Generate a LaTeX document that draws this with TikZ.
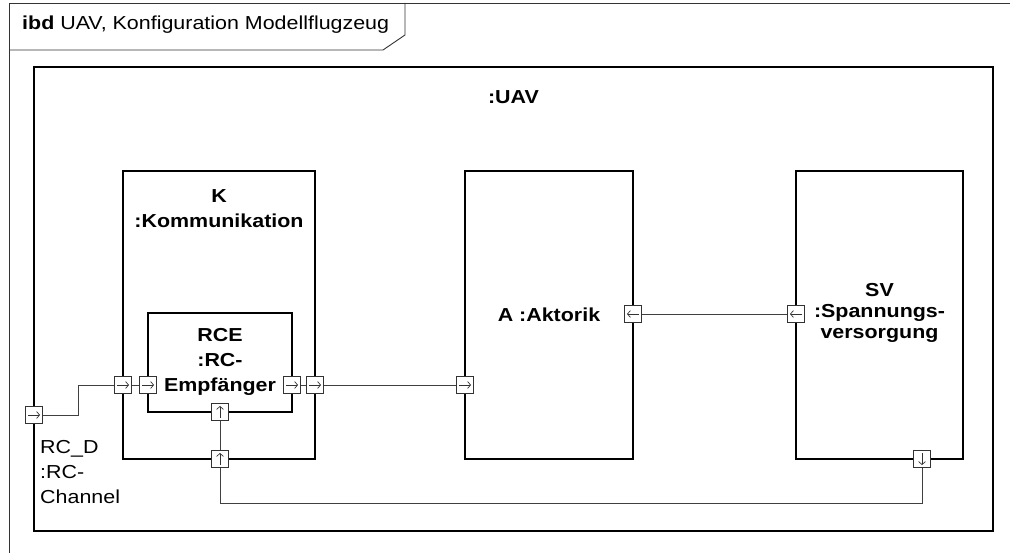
\documentclass[tikz,border=0pt]{standalone}
\usepackage{fontspec}
\setmainfont{Liberation Sans}[FakeStretch=1.14]
\usetikzlibrary{arrows.meta}

\tikzset{
 block/.style 2 args={draw,line width=1.3pt,inner sep=0pt,minimum width=#1,minimum height=#2},
 port/.style={draw=black!80,fill=white,line width=.7pt,inner sep=0pt,minimum size=17pt},
 pr/.style={port,path picture={\draw[->] ([xshift=-6pt]path picture bounding box.center)--([xshift=6pt]path picture bounding box.center);}},
 pl/.style={port,path picture={\draw[->] ([xshift=6pt]path picture bounding box.center)--([xshift=-6pt]path picture bounding box.center);}},
 pu/.style={port,path picture={\draw[->] ([yshift=-6pt]path picture bounding box.center)--([yshift=6pt]path picture bounding box.center);}},
 pd/.style={port,path picture={\draw[->] ([yshift=6pt]path picture bounding box.center)--([yshift=-6pt]path picture bounding box.center);}},
 conn/.style={draw=black!75,line width=.8pt},
 lbl/.style={font=\fontsize{18.8}{25}\selectfont\bfseries,align=center,inner sep=0pt}
}

\begin{document}
\begin{tikzpicture}[x=1pt,y=-1pt,>={Straight Barb[length=3pt,width=7pt]},
 every node/.append style={font=\fontsize{18.8}{25}\selectfont}]
 \useasboundingbox (0,0) rectangle (1010,553);
 \clip (0,0) rectangle (1010,553);
 % frame
 \draw[black!80,line width=.9pt] (9,570)--(9,3)--(1030,3);
 \draw[black!80,line width=.9pt] (9,50)--(383,50)--(405,35)--(405,3);
 \node[anchor=west,inner sep=0pt] (title) at (22,25) {\textbf{ibd} UAV, Konfiguration Modellflugzeug};
 % blocks
 \node[block={959pt}{464pt}] (uav) at (513.5,299) {};
 \node[block={192pt}{288pt}] (k) at (219,315) {};
 \node[block={144pt}{99pt}] (rce) at (220,362.5) {};
 \node[block={168pt}{288pt}] (a) at (549,315) {};
 \node[block={167pt}{288pt}] (sv) at (879.5,315) {};
 \node[lbl] (uavname) at (513.5,97) {:UAV};
 \node[lbl] (kname) at (219,209) {K\\:Kommunikation};
 \node[lbl] (rcename) at (220,361.5) {RCE\\:RC-\\Empfänger};
 \node[lbl] (aname) at (549,315) {A :Aktorik};
 \node[lbl,font=\fontsize{18.8}{21}\selectfont\bfseries] (svname) at (879.5,313) {SV\\:Spannungs-\\versorgung};
 % ports
 \node[pr] (rcd) at (34,415) {};
 \node[pr] (kin) at (123,385) {};
 \node[pr] (rin) at (148,385) {};
 \node[pr] (rout) at (292,385) {};
 \node[pr] (kout) at (315,385) {};
 \node[pr] (ain) at (465,385) {};
 \node[pl] (aout) at (633,314) {};
 \node[pl] (svin) at (796,314) {};
 \node[pu] (rpw) at (220,412) {};
 \node[pu] (kpw) at (220,459) {};
 \node[pd] (svpw) at (922,459) {};
 \node[anchor=west,align=left,inner sep=0pt] (rcdname) at (40,472) {RC\_D\\:RC-\\Channel};
 % connectors
 \draw[conn] (rcd.east)--++(36,0) |- (kin.west);
 \draw[conn] (kin)--(rin);
 \draw[conn] (rout)--(kout);
 \draw[conn] (kout)--(ain);
 \draw[conn] (aout)--(svin);
 \draw[conn] (rpw)--(kpw);
 \draw[conn] (kpw.south)--++(0,36) -| (svpw.south);
\end{tikzpicture}
\end{document}
